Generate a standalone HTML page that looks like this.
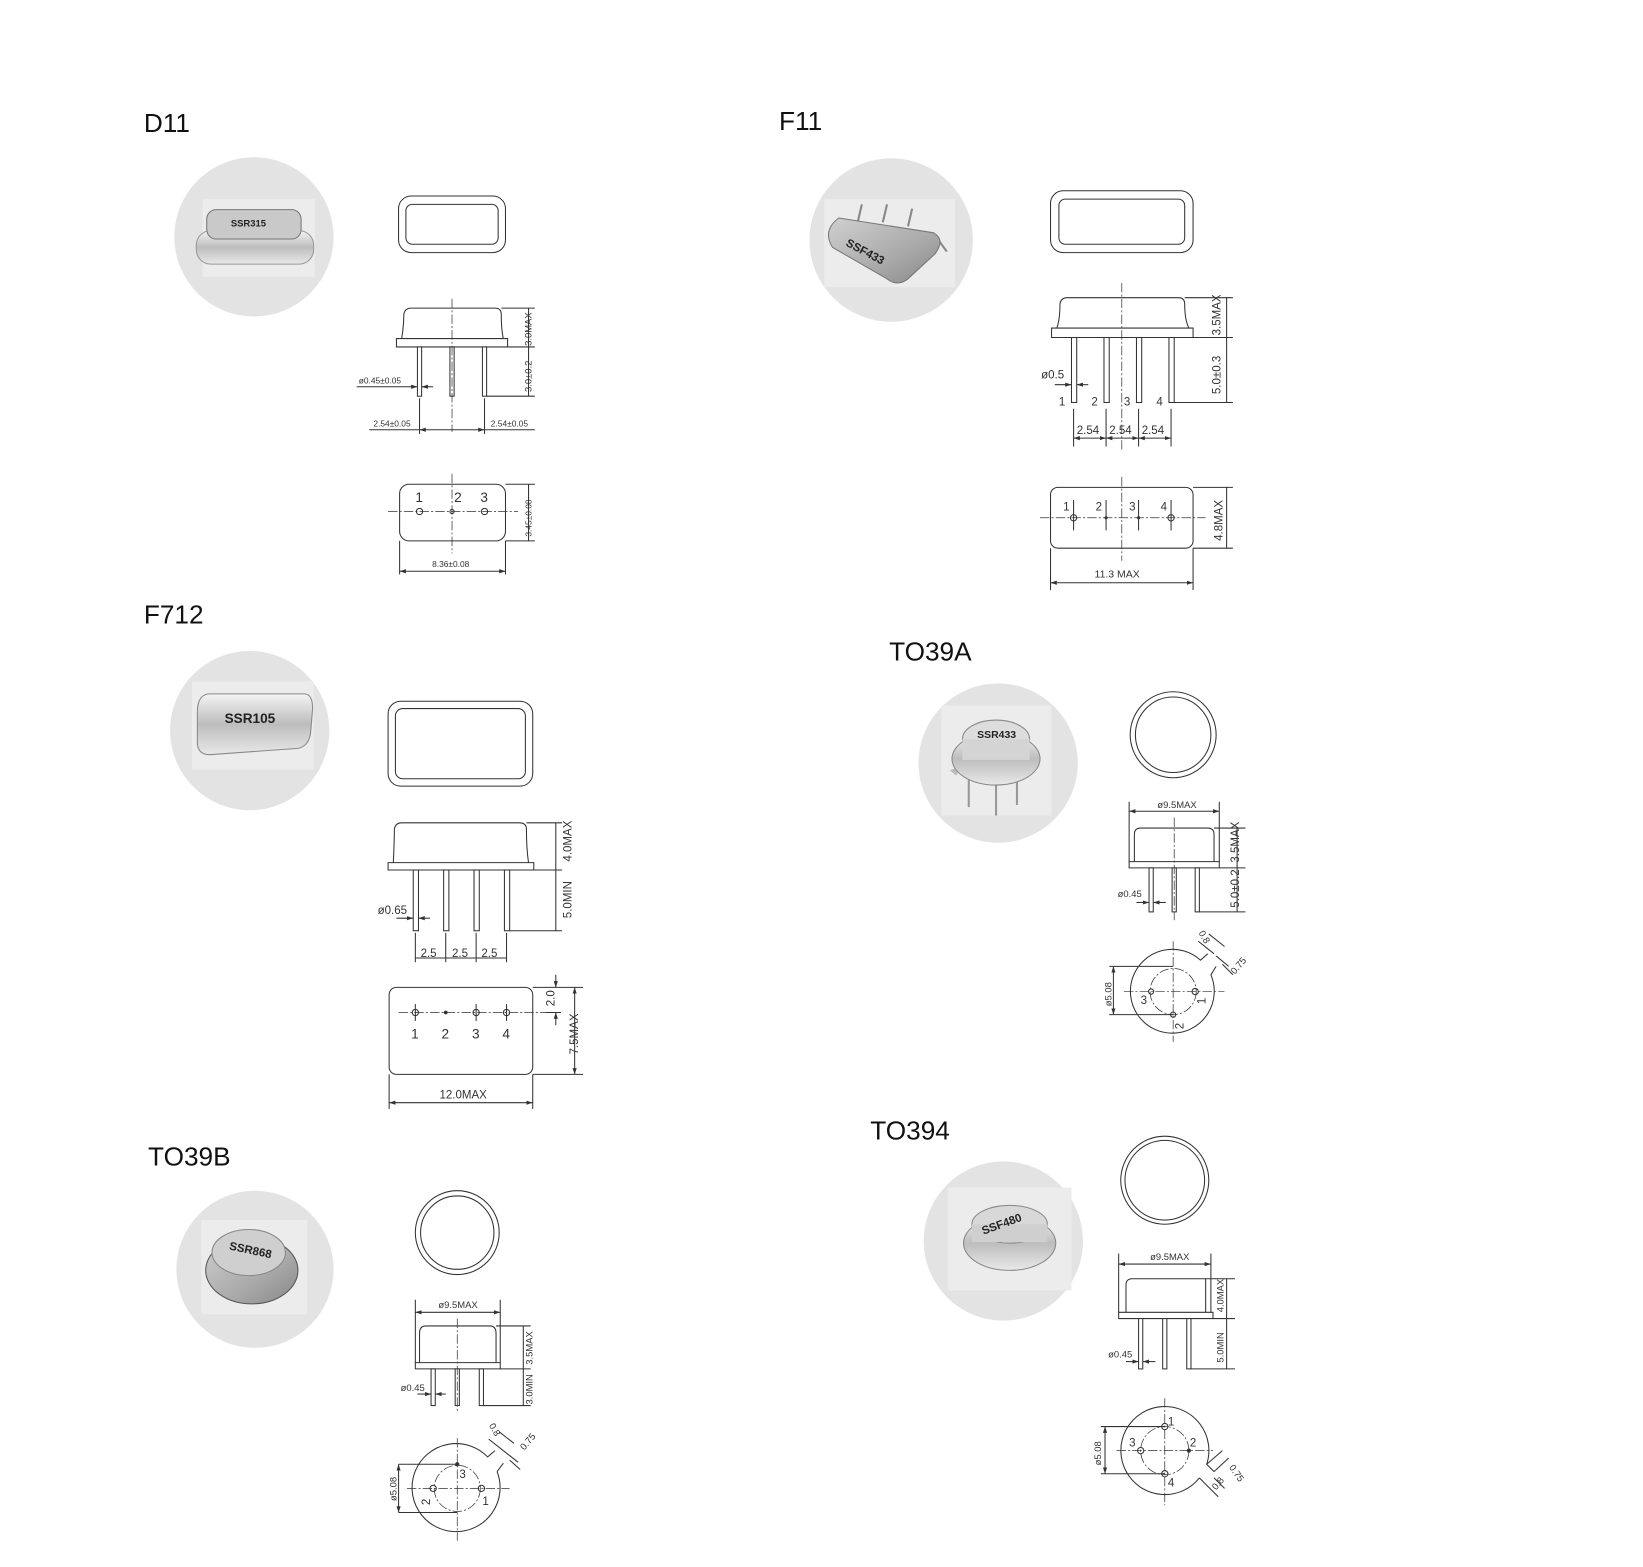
<!DOCTYPE html>
<html><head><meta charset="utf-8"><style>
html,body{margin:0;padding:0;background:#fff;}
svg{display:block}
.l{stroke:#333;fill:none;stroke-width:1}
.f{stroke:#333;fill:#fff;stroke-width:1}
.c{stroke:#333;fill:none;stroke-width:0.7;stroke-dasharray:9 2 2 2}
.t{font-family:"Liberation Sans",sans-serif;font-size:9px;fill:#333}
.n{font-family:"Liberation Sans",sans-serif;font-size:11px;fill:#333}
.h{font-family:"Liberation Sans",sans-serif;font-size:25px;fill:#111}
.bg{fill:#e3e3e3}
.pb{fill:#ececec}
.pk{font-family:"Liberation Sans",sans-serif;font-weight:bold;font-size:11px;fill:#222}
</style></head><body>
<svg width="1643" height="1567" viewBox="0 0 1567 1495" xmlns="http://www.w3.org/2000/svg">
<defs>
<linearGradient id="m" x1="0" y1="0" x2="0" y2="1"><stop offset="0" stop-color="#f4f4f4"/><stop offset="0.5" stop-color="#bdbdbd"/><stop offset="1" stop-color="#e8e8e8"/></linearGradient>
<linearGradient id="m2" x1="0" y1="0" x2="1" y2="1"><stop offset="0" stop-color="#d0d0d0"/><stop offset="0.6" stop-color="#a9a9a9"/><stop offset="1" stop-color="#888"/></linearGradient>
<marker id="a" markerWidth="6" markerHeight="6" refX="6" refY="3" orient="auto-start-reverse"><path d="M0,1 L6,3 L0,5z" fill="#333"/></marker>
</defs>

<!-- ============ D11 ============ -->
<text class="h" x="137" y="126">D11</text>
<circle class="bg" cx="242" cy="226" r="76"/>
<rect class="pb" x="193" y="190" width="107" height="74"/>
<rect x="187" y="220" width="112" height="32" rx="14" fill="url(#m)" stroke="#999"/>
<rect x="197" y="200" width="90" height="28" rx="9" fill="#c9c9c9" stroke="#777"/>
<text class="pk" x="220" y="216" style="font-size:9px">SSR315</text>
<rect class="l" x="380" y="187" width="102" height="54" rx="12"/>
<rect class="l" x="387" y="195" width="88" height="38" rx="6"/>
<path class="l" d="M378,323 V331 H484 V323 Z M383,323 Q385,310 385,300 Q386,294 392,294 H472 Q478,294 478,300 Q478,315 480,323"/>
<rect class="f" x="398" y="331" width="4" height="47"/><rect class="f" x="429" y="331" width="4" height="47"/><rect class="f" x="460" y="331" width="4" height="47"/>
<line class="c" x1="431" y1="285" x2="431" y2="412"/>
<line class="l" x1="478" y1="294" x2="510" y2="294"/><line class="l" x1="484" y1="331" x2="510" y2="331"/><line class="l" x1="464" y1="378" x2="510" y2="378"/>
<line class="l" x1="504" y1="294" x2="504" y2="378"/>
<text class="t" transform="translate(507,330) rotate(-90)">3.0MAX</text>
<text class="t" transform="translate(507,374) rotate(-90)">3.0±0.2</text>
<text class="t" x="342" y="366" style="font-size:8px">ø0.45±0.05</text>
<line class="l" x1="340" y1="369" x2="398" y2="369" marker-end="url(#a)"/><line class="l" x1="413" y1="369" x2="402" y2="369" marker-end="url(#a)"/>
<line class="l" x1="400" y1="380" x2="400" y2="414"/><line class="l" x1="462" y1="380" x2="462" y2="414"/>
<line class="l" x1="400" y1="410" x2="462" y2="410" marker-start="url(#a)" marker-end="url(#a)"/>
<line class="l" x1="352" y1="410" x2="400" y2="410"/><line class="l" x1="462" y1="410" x2="510" y2="410"/>
<text class="t" x="356" y="407" style="font-size:8px">2.54±0.05</text><text class="t" x="468" y="407" style="font-size:8px">2.54±0.05</text>
<rect class="l" x="381" y="462" width="101" height="54" rx="9"/>
<line class="c" x1="370" y1="488" x2="494" y2="488"/><line class="c" x1="431" y1="452" x2="431" y2="528"/>
<circle class="l" cx="400" cy="488" r="3"/><circle class="l" cx="431" cy="488" r="2"/><circle class="l" cx="462" cy="488" r="3"/>
<text class="n" x="396" y="479" style="font-size:13px">1</text><text class="n" x="433" y="479" style="font-size:13px">2</text><text class="n" x="458" y="479" style="font-size:13px">3</text>
<line class="l" x1="482" y1="462" x2="510" y2="462"/><line class="l" x1="482" y1="516" x2="510" y2="516"/><line class="l" x1="504" y1="462" x2="504" y2="516"/>
<text class="t" transform="translate(507,512) rotate(-90)" style="font-size:8px">3.45±0.08</text>
<line class="l" x1="381" y1="516" x2="381" y2="548"/><line class="l" x1="482" y1="516" x2="482" y2="548"/>
<line class="l" x1="381" y1="545" x2="482" y2="545" marker-start="url(#a)" marker-end="url(#a)"/>
<text class="t" x="412" y="541" style="font-size:8px">8.36±0.08</text>

<!-- ============ F11 ============ -->
<text class="h" x="743" y="124">F11</text>
<circle class="bg" cx="850" cy="229" r="78"/>
<rect class="pb" x="786" y="190" width="125" height="84"/>
<line x1="818" y1="212" x2="822" y2="195" stroke="#888" stroke-width="2"/><line x1="842" y1="212" x2="846" y2="195" stroke="#888" stroke-width="2"/><line x1="866" y1="216" x2="870" y2="199" stroke="#888" stroke-width="2"/><line x1="890" y1="222" x2="903" y2="240" stroke="#888" stroke-width="2"/>
<path d="M800,208 L890,222 Q902,228 892,242 L866,266 Q856,274 846,266 L794,236 Q784,220 800,208Z" fill="url(#m2)" stroke="#777"/>
<text class="pk" transform="translate(806,234) rotate(28)">SSF433</text>
<rect class="l" x="1002" y="182" width="136" height="59" rx="12"/>
<rect class="l" x="1010" y="190" width="120" height="43" rx="6"/>
<path class="l" d="M1003,313 V322 H1138 V313 Z M1008,313 Q1011,305 1011,290 Q1012,284 1018,284 H1124 Q1130,284 1130,290 Q1130,305 1134,313"/>
<rect class="f" x="1022" y="322" width="5" height="62"/><rect class="f" x="1053" y="322" width="5" height="62"/><rect class="f" x="1084" y="322" width="5" height="62"/><rect class="f" x="1115" y="322" width="5" height="62"/>
<line class="c" x1="1070" y1="270" x2="1070" y2="430"/>
<text class="n" x="1010" y="387">1</text><text class="n" x="1041" y="387">2</text><text class="n" x="1072" y="387">3</text><text class="n" x="1103" y="387">4</text>
<line class="l" x1="1130" y1="284" x2="1176" y2="284"/><line class="l" x1="1138" y1="322" x2="1176" y2="322"/><line class="l" x1="1120" y1="384" x2="1176" y2="384"/>
<line class="l" x1="1170" y1="284" x2="1170" y2="384"/>
<text class="n" transform="translate(1164,320) rotate(-90)">3.5MAX</text>
<text class="n" transform="translate(1164,376) rotate(-90)">5.0±0.3</text>
<text class="n" x="993" y="361">ø0.5</text>
<line class="l" x1="1006" y1="367" x2="1022" y2="367" marker-end="url(#a)"/><line class="l" x1="1038" y1="367" x2="1027" y2="367" marker-end="url(#a)"/>
<line class="l" x1="1024" y1="390" x2="1024" y2="426"/><line class="l" x1="1055" y1="390" x2="1055" y2="426"/><line class="l" x1="1086" y1="390" x2="1086" y2="426"/><line class="l" x1="1117" y1="390" x2="1117" y2="426"/>
<line class="l" x1="1024" y1="418" x2="1055" y2="418" marker-start="url(#a)" marker-end="url(#a)"/><line class="l" x1="1055" y1="418" x2="1086" y2="418" marker-start="url(#a)" marker-end="url(#a)"/><line class="l" x1="1086" y1="418" x2="1117" y2="418" marker-start="url(#a)" marker-end="url(#a)"/>
<text class="n" x="1027" y="414">2.54</text><text class="n" x="1058" y="414">2.54</text><text class="n" x="1089" y="414">2.54</text>
<rect class="l" x="1002" y="465" width="136" height="58" rx="7"/>
<line class="c" x1="992" y1="494" x2="1150" y2="494"/><line class="c" x1="1070" y1="455" x2="1070" y2="535"/>
<circle class="l" cx="1024" cy="494" r="3"/><circle cx="1055" cy="494" r="1.5" fill="#333"/><circle cx="1086" cy="494" r="1.5" fill="#333"/><circle class="l" cx="1117" cy="494" r="3"/>
<line class="l" x1="1024" y1="477" x2="1024" y2="506"/><line class="l" x1="1055" y1="477" x2="1055" y2="506"/><line class="l" x1="1086" y1="477" x2="1086" y2="506"/><line class="l" x1="1117" y1="477" x2="1117" y2="506"/>
<text class="n" x="1014" y="487">1</text><text class="n" x="1045" y="487">2</text><text class="n" x="1077" y="487">3</text><text class="n" x="1107" y="487">4</text>
<line class="l" x1="1138" y1="465" x2="1176" y2="465"/><line class="l" x1="1138" y1="523" x2="1176" y2="523"/><line class="l" x1="1170" y1="465" x2="1170" y2="523"/>
<text class="n" transform="translate(1166,516) rotate(-90)">4.8MAX</text>
<line class="l" x1="1002" y1="523" x2="1002" y2="563"/><line class="l" x1="1138" y1="523" x2="1138" y2="563"/>
<line class="l" x1="1002" y1="556" x2="1138" y2="556" marker-start="url(#a)" marker-end="url(#a)"/>
<text class="t" x="1044" y="551" style="font-size:10px">11.3  MAX</text>

<!-- ============ F712 ============ -->
<text class="h" x="137" y="595">F712</text>
<circle class="bg" cx="238" cy="697" r="76"/>
<rect class="pb" x="183" y="650" width="116" height="84"/>
<path d="M188,680 Q188,662 200,662 H290 Q298,662 298,676 L296,700 Q294,712 284,714 L200,720 Q188,720 188,708Z" fill="url(#m)" stroke="#888"/>
<text class="pk" x="214" y="690" style="font-size:13px">SSR105</text>
<rect class="l" x="370" y="669" width="138" height="81" rx="12"/>
<rect class="l" x="377" y="676" width="124" height="67" rx="7"/>
<path class="l" d="M370,823 V830 H509 V823 Z M375,823 Q376,800 376,791 Q377,785 383,785 H495 Q502,785 502,791 Q502,810 504,823"/>
<rect class="f" x="394" y="830" width="5" height="58"/><rect class="f" x="423" y="830" width="5" height="58"/><rect class="f" x="452" y="830" width="5" height="58"/><rect class="f" x="481" y="830" width="5" height="58"/>
<line class="l" x1="502" y1="785" x2="536" y2="785"/><line class="l" x1="509" y1="830" x2="536" y2="830"/><line class="l" x1="486" y1="888" x2="536" y2="888"/>
<line class="l" x1="530" y1="785" x2="530" y2="888"/>
<text class="n" transform="translate(545,822) rotate(-90)">4.0MAX</text>
<text class="n" transform="translate(545,876) rotate(-90)">5.0MIN</text>
<text class="n" x="360" y="872">ø0.65</text>
<line class="l" x1="378" y1="876" x2="394" y2="876" marker-end="url(#a)"/><line class="l" x1="410" y1="876" x2="399" y2="876" marker-end="url(#a)"/>
<line class="l" x1="396" y1="890" x2="396" y2="918"/><line class="l" x1="425" y1="890" x2="425" y2="918"/><line class="l" x1="454" y1="890" x2="454" y2="918"/><line class="l" x1="483" y1="890" x2="483" y2="918"/>
<line class="l" x1="396" y1="914" x2="483" y2="914"/>
<text class="n" x="401" y="913">2.5</text><text class="n" x="431" y="913">2.5</text><text class="n" x="459" y="913">2.5</text>
<rect class="l" x="371" y="942" width="137" height="83" rx="7"/>
<line class="c" x1="380" y1="966" x2="520" y2="966"/>
<circle class="l" cx="396" cy="966" r="3"/><circle cx="425" cy="966" r="1.8" fill="#333"/><circle class="l" cx="454" cy="966" r="3"/><circle class="l" cx="483" cy="966" r="3"/>
<line class="l" x1="396" y1="958" x2="396" y2="974"/><line class="l" x1="454" y1="958" x2="454" y2="974"/><line class="l" x1="483" y1="958" x2="483" y2="974"/>
<text class="n" x="392" y="991" style="font-size:13px">1</text><text class="n" x="421" y="991" style="font-size:13px">2</text><text class="n" x="450" y="991" style="font-size:13px">3</text><text class="n" x="479" y="991" style="font-size:13px">4</text>
<line class="l" x1="508" y1="942" x2="556" y2="942"/><line class="l" x1="508" y1="1025" x2="556" y2="1025"/><line class="l" x1="520" y1="966" x2="535" y2="966"/>
<line class="l" x1="530" y1="930" x2="530" y2="942" marker-end="url(#a)"/><line class="l" x1="530" y1="978" x2="530" y2="966" marker-end="url(#a)"/>
<text class="n" transform="translate(529,960) rotate(-90)">2.0</text>
<line class="l" x1="548" y1="942" x2="548" y2="1025" marker-start="url(#a)" marker-end="url(#a)"/>
<text class="n" transform="translate(551,1006) rotate(-90)">7.5MAX</text>
<line class="l" x1="371" y1="1025" x2="371" y2="1058"/><line class="l" x1="508" y1="1025" x2="508" y2="1058"/>
<line class="l" x1="371" y1="1052" x2="508" y2="1052" marker-start="url(#a)" marker-end="url(#a)"/>
<text class="n" x="419" y="1048">12.0MAX</text>

<!-- ============ TO39B ============ -->
<text class="h" x="141" y="1112">TO39B</text>
<circle class="bg" cx="243" cy="1211" r="75"/>
<rect class="pb" x="192" y="1164" width="101" height="90"/>
<ellipse cx="240" cy="1212" rx="44" ry="32" fill="url(#m2)" stroke="#555"/>
<ellipse cx="237" cy="1195" rx="35" ry="22" fill="#cfcfcf" stroke="#888"/>
<text class="pk" transform="translate(218,1192) rotate(12)">SSR868</text>
<circle class="l" cx="436" cy="1176" r="40"/><circle class="l" cx="436" cy="1176" r="35"/>
<line class="l" x1="396" y1="1240" x2="396" y2="1300"/><line class="l" x1="477" y1="1240" x2="477" y2="1300"/>
<line class="l" x1="396" y1="1252" x2="477" y2="1252" marker-start="url(#a)" marker-end="url(#a)"/>
<text class="t" x="418" y="1248">ø9.5MAX</text>
<path class="l" d="M396,1300 V1306 H477 V1300 Z M400,1300 V1272 Q400,1265 406,1265 H467 Q473,1265 473,1272 V1300"/>
<rect class="f" x="411" y="1306" width="4" height="35"/><rect class="f" x="434" y="1306" width="4" height="35"/><rect class="f" x="457" y="1306" width="4" height="35"/>
<line class="c" x1="436" y1="1258" x2="436" y2="1348"/>
<line class="l" x1="473" y1="1265" x2="506" y2="1265"/><line class="l" x1="477" y1="1306" x2="506" y2="1306"/><line class="l" x1="461" y1="1341" x2="506" y2="1341"/>
<line class="l" x1="499" y1="1265" x2="499" y2="1341"/>
<text class="t" transform="translate(508,1302) rotate(-90)">3.5MAX</text>
<text class="t" transform="translate(508,1340) rotate(-90)">3.0MIN</text>
<text class="t" x="382" y="1327">ø0.45</text>
<line class="l" x1="398" y1="1330" x2="411" y2="1330" marker-end="url(#a)"/><line class="l" x1="425" y1="1330" x2="415" y2="1330" marker-end="url(#a)"/>
<path class="l" d="M474,1404 A42,42 0 1 1 465,1390 L472,1384 M480,1396 L474,1404"/>
<circle class="c" cx="436" cy="1420" r="22"/>
<line class="c" x1="388" y1="1420" x2="486" y2="1420"/><line class="c" x1="436" y1="1372" x2="436" y2="1470"/>
<circle class="l" cx="413" cy="1420" r="3"/><circle class="l" cx="459" cy="1420" r="3"/><circle cx="436" cy="1397" r="2" fill="#333"/>
<text class="n" x="438" y="1410">3</text><text class="n" transform="translate(410,1436) rotate(-90)">2</text><text class="n" x="460" y="1436">1</text>
<line class="l" x1="380" y1="1397" x2="436" y2="1397"/><line class="l" x1="380" y1="1443" x2="436" y2="1443"/>
<line class="l" x1="380" y1="1397" x2="380" y2="1443" marker-start="url(#a)" marker-end="url(#a)"/>
<text class="t" transform="translate(378,1432) rotate(-90)">ø5.08</text>
<line class="l" x1="466" y1="1373" x2="480" y2="1384"/><line class="l" x1="476" y1="1366" x2="490" y2="1377"/>
<text class="t" transform="translate(466,1360) rotate(60)">0.8</text>
<line class="l" x1="480" y1="1384" x2="494" y2="1395"/><line class="l" x1="486" y1="1393" x2="496" y2="1402"/>
<text class="t" transform="translate(500,1384) rotate(-50)">0.75</text>

<!-- ============ TO39A ============ -->
<text class="h" x="848" y="630">TO39A</text>
<circle class="bg" cx="952" cy="728" r="76"/>
<rect class="pb" x="898" y="673" width="105" height="105"/>
<line x1="924" y1="740" x2="924" y2="770" stroke="#999" stroke-width="2"/><line x1="950" y1="745" x2="950" y2="778" stroke="#999" stroke-width="2"/><line x1="970" y1="740" x2="970" y2="768" stroke="#999" stroke-width="2"/>
<path d="M906,735 L912,740 L918,730Z" fill="#bbb"/>
<ellipse cx="950" cy="724" rx="42" ry="25" fill="url(#m)" stroke="#888"/>
<ellipse cx="950" cy="705" rx="32" ry="18" fill="#ddd" stroke="#888"/>
<rect x="918" y="705" width="64" height="20" fill="#d4d4d4"/>
<text class="pk" x="932" y="704" style="font-size:10px">SSR433</text>
<circle class="l" cx="1119" cy="701" r="41"/><circle class="l" cx="1119" cy="701" r="36"/>
<line class="l" x1="1077" y1="765" x2="1077" y2="822"/><line class="l" x1="1163" y1="765" x2="1163" y2="822"/>
<line class="l" x1="1077" y1="774" x2="1163" y2="774" marker-start="url(#a)" marker-end="url(#a)"/>
<text class="t" x="1104" y="771">ø9.5MAX</text>
<path class="l" d="M1077,822 V828 H1163 V822 Z M1082,822 V796 Q1082,790 1088,790 H1152 Q1158,790 1158,796 V822"/>
<rect class="f" x="1096" y="828" width="4" height="42"/><rect class="f" x="1118" y="828" width="4" height="42"/><rect class="f" x="1140" y="828" width="4" height="42"/>
<line class="c" x1="1120" y1="780" x2="1120" y2="878"/>
<line class="l" x1="1158" y1="790" x2="1188" y2="790"/><line class="l" x1="1163" y1="828" x2="1188" y2="828"/><line class="l" x1="1144" y1="870" x2="1188" y2="870"/>
<line class="l" x1="1180" y1="790" x2="1180" y2="870"/>
<text class="n" transform="translate(1182,823) rotate(-90)">3.5MAX</text>
<text class="n" transform="translate(1182,866) rotate(-90)">5.0±0.2</text>
<text class="t" x="1066" y="856">ø0.45</text>
<line class="l" x1="1084" y1="861" x2="1096" y2="861" marker-end="url(#a)"/><line class="l" x1="1112" y1="861" x2="1100" y2="861" marker-end="url(#a)"/>
<path class="l" d="M1155,930 A40,40 0 1 1 1145,916 L1152,910 M1160,922 L1155,930"/>
<circle class="c" cx="1119" cy="946" r="22"/>
<line class="c" x1="1072" y1="946" x2="1168" y2="946"/><line class="c" x1="1119" y1="898" x2="1119" y2="994"/>
<circle class="l" cx="1098" cy="946" r="2.5"/><circle class="l" cx="1140" cy="946" r="3"/><circle class="l" cx="1119" cy="968" r="2.5"/>
<text class="n" x="1088" y="958">3</text><text class="n" transform="translate(1150,958) rotate(-90)">1</text><text class="n" transform="translate(1129,982) rotate(-90)">2</text>
<line class="l" x1="1058" y1="922" x2="1119" y2="922"/><line class="l" x1="1058" y1="968" x2="1119" y2="968"/>
<line class="l" x1="1062" y1="922" x2="1062" y2="968" marker-start="url(#a)" marker-end="url(#a)"/>
<text class="t" transform="translate(1060,960) rotate(-90)">ø5.08</text>
<line class="l" x1="1143" y1="898" x2="1158" y2="910"/><line class="l" x1="1153" y1="891" x2="1168" y2="903"/>
<text class="t" transform="translate(1143,890) rotate(60)">0.8</text>
<line class="l" x1="1160" y1="912" x2="1172" y2="922"/><line class="l" x1="1166" y1="920" x2="1176" y2="930"/>
<text class="t" transform="translate(1178,930) rotate(-50)">0.75</text>

<!-- ============ TO394 ============ -->
<text class="h" x="830" y="1087">TO394</text>
<circle class="bg" cx="957" cy="1184" r="76"/>
<rect class="pb" x="904" y="1133" width="118" height="98"/>
<ellipse cx="963" cy="1186" rx="44" ry="26" fill="url(#m)" stroke="#888"/>
<ellipse cx="963" cy="1168" rx="36" ry="18" fill="#d8d8d8" stroke="#888"/>
<rect x="927" y="1168" width="72" height="17" fill="#cfcfcf"/>
<text class="pk" transform="translate(938,1178) rotate(-20)">SSF480</text>
<circle class="l" cx="1111" cy="1126" r="42"/><circle class="l" cx="1111" cy="1126" r="38"/>
<line class="l" x1="1067" y1="1196" x2="1067" y2="1252"/><line class="l" x1="1155" y1="1196" x2="1155" y2="1252"/>
<line class="l" x1="1067" y1="1206" x2="1155" y2="1206" marker-start="url(#a)" marker-end="url(#a)"/>
<text class="t" x="1097" y="1202">ø9.5MAX</text>
<path class="l" d="M1067,1252 V1258 H1157 V1252 Z M1074,1252 V1226 Q1074,1220 1080,1220 H1150 V1252"/>
<rect class="f" x="1086" y="1258" width="4" height="48"/><rect class="f" x="1109" y="1258" width="4" height="48"/><rect class="f" x="1132" y="1258" width="4" height="48"/>
<line class="l" x1="1150" y1="1220" x2="1178" y2="1220"/><line class="l" x1="1157" y1="1258" x2="1178" y2="1258"/><line class="l" x1="1136" y1="1306" x2="1178" y2="1306"/>
<line class="l" x1="1170" y1="1220" x2="1170" y2="1306"/>
<text class="t" transform="translate(1167,1252) rotate(-90)">4.0MAX</text>
<text class="t" transform="translate(1167,1300) rotate(-90)">5.0MIN</text>
<text class="t" x="1057" y="1295">ø0.45</text>
<line class="l" x1="1074" y1="1299" x2="1086" y2="1299" marker-end="url(#a)"/><line class="l" x1="1102" y1="1299" x2="1090" y2="1299" marker-end="url(#a)"/>
<path class="l" d="M1144,1410 A42,42 0 1 1 1151,1397 L1158,1404 M1144,1410 L1150,1416"/>
<circle class="c" cx="1111" cy="1384" r="23"/>
<line class="c" x1="1065" y1="1384" x2="1157" y2="1384"/><line class="c" x1="1111" y1="1334" x2="1111" y2="1436"/>
<circle class="l" cx="1111" cy="1361" r="3"/><circle cx="1134" cy="1384" r="2" fill="#333"/><circle class="l" cx="1111" cy="1406" r="3"/><circle class="l" cx="1088" cy="1384" r="3"/>
<text class="n" x="1114" y="1360">1</text><text class="n" x="1135" y="1380">2</text><text class="n" x="1077" y="1380">3</text><text class="n" x="1114" y="1418">4</text>
<line class="l" x1="1050" y1="1361" x2="1111" y2="1361"/><line class="l" x1="1050" y1="1406" x2="1111" y2="1406"/>
<line class="l" x1="1054" y1="1361" x2="1054" y2="1406" marker-start="url(#a)" marker-end="url(#a)"/>
<text class="t" transform="translate(1050,1398) rotate(-90)">ø5.08</text>
<line class="l" x1="1151" y1="1397" x2="1166" y2="1384"/><line class="l" x1="1158" y1="1404" x2="1172" y2="1391"/>
<text class="t" transform="translate(1172,1400) rotate(55)">0.75</text>
<line class="l" x1="1150" y1="1416" x2="1162" y2="1428"/><line class="l" x1="1158" y1="1410" x2="1168" y2="1420"/>
<text class="t" transform="translate(1160,1422) rotate(-50)">0.8</text>
</svg>
</body></html>
